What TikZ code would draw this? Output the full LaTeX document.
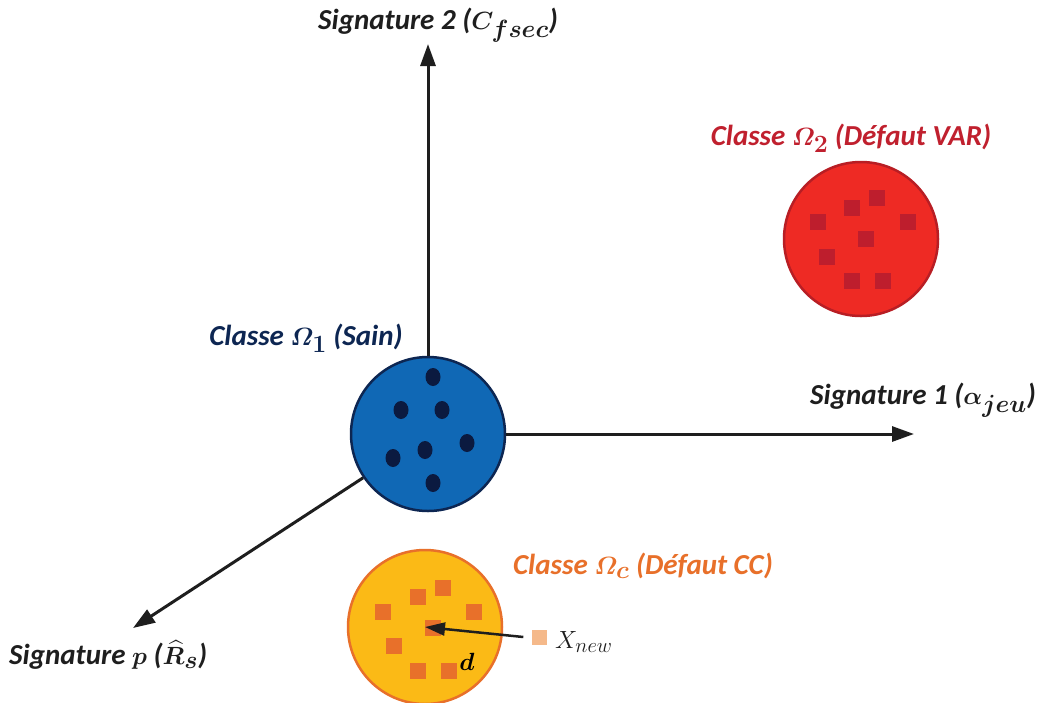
\documentclass[tikz,border=0pt]{standalone}
\usepackage{amsmath,bm}
\usepackage{fontspec}
\setmainfont{Carlito}
\DeclareMathSizes{29}{31}{23}{17}
\usetikzlibrary{arrows.meta}
\definecolor{blueF}{HTML}{1068B5}
\definecolor{navy}{HTML}{0D2652}
\definecolor{dotc}{HTML}{0B1A40}
\definecolor{redF}{HTML}{EE2A24}
\definecolor{redB}{HTML}{B81E24}
\definecolor{redS}{HTML}{BE1E2D}
\definecolor{redT}{HTML}{C0202E}
\definecolor{yelF}{HTML}{FBBA16}
\definecolor{oraB}{HTML}{E8702A}
\definecolor{oraL}{HTML}{F5B98A}
\definecolor{axisc}{HTML}{1E1E1E}
\tikzset{
  axis/.style={line width=3pt, draw=axisc, -{Triangle[length=22pt,width=15pt]}},
  cls/.style={circle, inner sep=0pt, minimum size=154pt, line width=2.5pt},
  lbl/.style={font=\bfseries\itshape\boldmath\fontsize{29}{34}\selectfont, inner sep=0pt},
}
\begin{document}
\begin{tikzpicture}[x=1pt,y=-1pt]
\useasboundingbox (0,0) rectangle (1039,702);
% classes
\node[cls, draw=navy, fill=blueF] (c1) at (428,434) {};
\node[cls, draw=redB, fill=redF] (c2) at (861,239) {};
\node[cls, draw=oraB, fill=yelF] (c3) at (425,627) {};
% axis tips
\coordinate (t2) at (428,44);
\coordinate (t1) at (914,434);
\coordinate (tp) at (133,628);
\draw[axis] (c1.north) -- (t2);
\draw[axis] (c1.east) -- (t1);
\draw[axis] (c1.-146) -- (tp);
% blue dots
\foreach \x/\y in {433/377, 401/410, 442/410, 467/443, 425/450, 393/458, 433/483}
  \fill[dotc] (\x,\y) ellipse (7.5 and 9);
% red squares
\foreach \x/\y in {877/198, 852/208, 818/222, 908/222, 866/239, 827/257, 852/281, 883/281}
  \fill[redS] (\x-8,\y-8) rectangle ++(16,16);
% orange squares
\foreach \x/\y in {443/588, 418/597, 383/612, 474/612, 433/628, 394/646, 418/671, 449/671}
  \fill[oraB] (\x-8,\y-8) rectangle ++(16,16);
% new sample
\node[fill=oraL, minimum size=15pt, inner sep=0pt] (xn) at (539,637) {};
\draw[line width=2.5pt, draw=axisc, -{Triangle[length=20pt,width=13pt]}] (xn.west) ++(-8,0) -- (c3.center);
\node[anchor=west, inner sep=0pt, text=axisc, font=\fontsize{28}{32}\selectfont] (xl) at (555,642) {$X_{new}$};
\node[inner sep=0pt, text=black, font=\fontsize{28}{32}\selectfont\boldmath] (d) at (467,662) {$\boldsymbol{d}$};
% labels
\node[lbl, text=navy] (l1) at (306,338) {Classe $\varOmega_1$ (Sain)};
\node[lbl, text=redT] (l2) at (851,138) {Classe $\varOmega_2$ (Défaut VAR)};
\node[lbl, text=oraB] (l3) at (643,566) {Classe $\varOmega_c$ (Défaut CC)};
\node[lbl, text=axisc] (a2) at (438,25) {Signature 2 ($C_{fsec}$)};
\node[lbl, text=axisc, anchor=east] (a1) at (1036,400) {Signature 1 ($\alpha_{jeu}$)};
\node[lbl, text=axisc, anchor=west] (ap) at (9,655) {Signature $p$ ($\widehat{R}_s$)};
\end{tikzpicture}
\end{document}
